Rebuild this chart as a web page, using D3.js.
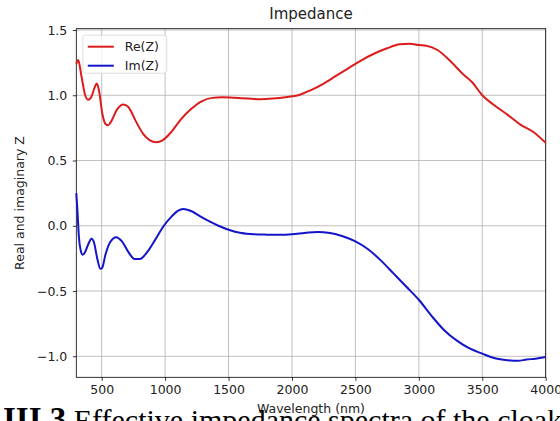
<!DOCTYPE html>
<html>
<head>
<meta charset="utf-8">
<script src="https://cdn.jsdelivr.net/npm/d3@7"></script>
<style>
  body { margin: 0; background: #fff; }
  svg { display: block; }
</style>
</head>
<body>
<div id="chart"></div>
<script>
/////////////////////////////////////////////////////////////////////
/////////////////////////global variables////////////////////////////
/////////////////////////////////////////////////////////////////////
var wdim = 560,
    hdim = 421,
    margin = {top: 28.7, right: 14.3, bottom: 43.7, left: 76.3},
    width = wdim - margin.left - margin.right,
    height = hdim - margin.top - margin.bottom;

var canvas;

// wavelength (nm) and values
var reWave = [300, 315, 340, 370, 395, 420, 445, 462, 480, 505, 530, 550, 575, 620, 670, 710, 770, 830, 880, 930, 980,
              1050, 1120, 1200, 1280, 1370, 1450, 1550, 1650, 1750, 1850, 1950, 2050, 2150, 2250, 2350, 2450, 2550,
              2650, 2750, 2850, 2930, 3000, 3060, 3150, 3250, 3350, 3420, 3500, 3600, 3700, 3800, 3900, 4000];
var reZ = [1.24, 1.27, 1.15, 1.00, 0.965, 0.99, 1.06, 1.09, 1.03, 0.86, 0.78, 0.77, 0.80, 0.89, 0.93, 0.91, 0.80, 0.70, 0.655, 0.64, 0.655,
           0.72, 0.81, 0.89, 0.95, 0.98, 0.985, 0.98, 0.975, 0.97, 0.975, 0.985, 1.00, 1.04, 1.09, 1.15, 1.21, 1.27,
           1.32, 1.36, 1.39, 1.395, 1.385, 1.38, 1.345, 1.26, 1.16, 1.10, 1.00, 0.92, 0.85, 0.775, 0.72, 0.635];

var imWave = [300, 310, 320, 335, 350, 370, 395, 420, 440, 465, 490, 505, 530, 570, 615, 660, 710, 760, 800, 860, 920, 990,
              1050, 1100, 1145, 1200, 1280, 1350, 1420, 1500, 1600, 1700, 1800, 1900, 2000, 2100, 2200, 2300, 2400,
              2500, 2600, 2700, 2800, 2900, 3000, 3100, 3200, 3300, 3400, 3500, 3600, 3700, 3780, 3850, 3920, 4000];
var imZ = [0.25, 0.10, -0.08, -0.19, -0.222, -0.20, -0.14, -0.10, -0.13, -0.25, -0.33, -0.32, -0.22, -0.12, -0.087, -0.12, -0.20, -0.255, -0.255, -0.20, -0.11, 0.0,
           0.07, 0.115, 0.128, 0.115, 0.07, 0.033, 0.0, -0.03, -0.055, -0.065, -0.068, -0.069, -0.065, -0.055, -0.047, -0.055, -0.08,
           -0.12, -0.18, -0.265, -0.365, -0.465, -0.567, -0.69, -0.80, -0.88, -0.94, -0.98, -1.015, -1.03, -1.035, -1.025, -1.018, -1.005];

var xTicks = [500, 1000, 1500, 2000, 2500, 3000, 3500, 4000];
var yTicks = [-1.0, -0.5, 0.0, 0.5, 1.0, 1.5];
var seriesNames = ["Re(Z)", "Im(Z)"];
var seriesColors = ["#dc1c1c", "#1414c8"];

var x = d3.scaleLinear().domain([300, 4000]).range([0, width]);
var y = d3.scaleLinear().domain([-1.161, 1.51]).range([height, 0]);

var font = "'DejaVu Sans', sans-serif";

/////////////////////////////////////////////////////////////////////
/////////////////////Function to build svg///////////////////////////
/////////////////////////////////////////////////////////////////////
function build_canvas(){
  var svg = d3.select("#chart")
    .append("svg")
    .attr("width", wdim)
    .attr("height", hdim);
  return svg;
}

function draw_axes(g){
  // grid
  g.append("g").selectAll("line").data(xTicks).enter().append("line")
    .attr("x1", d => x(d)).attr("x2", d => x(d))
    .attr("y1", 0).attr("y2", height)
    .attr("stroke", "#b0b0b0").attr("stroke-width", 0.8);
  g.append("g").selectAll("line").data(yTicks).enter().append("line")
    .attr("x1", 0).attr("x2", width)
    .attr("y1", d => y(d)).attr("y2", d => y(d))
    .attr("stroke", "#b0b0b0").attr("stroke-width", 0.8);

  var xAxis = g.append("g")
    .attr("transform", "translate(0," + height + ")")
    .call(d3.axisBottom(x).tickValues(xTicks).tickSize(3.5).tickPadding(4).tickFormat(d3.format("d")));
  var yAxis = g.append("g")
    .call(d3.axisLeft(y).tickValues(yTicks).tickSize(3.5).tickPadding(5.5)
      .tickFormat(d => d3.format(".1f")(d).replace("-", "\u2212")));

  [xAxis, yAxis].forEach(function(a){
    a.select(".domain").remove();
    a.selectAll("line").attr("stroke", "#000").attr("stroke-width", 0.8);
    a.selectAll("text").attr("font-family", font).attr("font-size", "12.5px").attr("fill", "#222");
  });

  // frame
  g.append("rect")
    .attr("width", width).attr("height", height)
    .attr("fill", "none").attr("stroke", "#000").attr("stroke-width", 0.8);
}

function draw_lines(g){
  var sets = [[reWave, reZ], [imWave, imZ]];
  var line = d3.line()
    .x(d => x(d[0]))
    .y(d => y(d[1]))
    .curve(d3.curveMonotoneX);

  sets.forEach(function(s, i){
    g.append("path")
      .datum(d3.zip(s[0], s[1]))
      .attr("d", line)
      .attr("fill", "none")
      .attr("stroke", seriesColors[i])
      .attr("stroke-width", 2)
      .attr("stroke-linejoin", "round");
  });
}

function draw_legend(g){
  var leg = g.append("g").attr("transform", "translate(6.5,6.5)");
  leg.append("rect")
    .attr("width", 84).attr("height", 38).attr("rx", 2.5)
    .attr("fill", "#fff").attr("fill-opacity", 0.8)
    .attr("stroke", "#d6d6d6").attr("stroke-width", 0.8);
  seriesNames.forEach(function(n, i){
    var yy = 11.5 + i * 19;
    leg.append("line")
      .attr("x1", 5).attr("x2", 31).attr("y1", yy).attr("y2", yy)
      .attr("stroke", seriesColors[i]).attr("stroke-width", 2);
    leg.append("text")
      .attr("x", 42).attr("y", yy).attr("dy", "0.35em")
      .attr("font-family", font).attr("font-size", "12.5px").attr("fill", "#222")
      .text(n);
  });
}

function draw_labels(svg){
  var cx = margin.left + width / 2;
  svg.append("text")
    .attr("x", cx).attr("y", 19)
    .attr("text-anchor", "middle")
    .attr("font-family", font).attr("font-size", "15px").attr("fill", "#222")
    .text("Impedance");
  svg.append("text")
    .attr("x", cx).attr("y", 413)
    .attr("text-anchor", "middle")
    .attr("font-family", font).attr("font-size", "12.5px").attr("fill", "#222")
    .text("Wavelength (nm)");
  svg.append("text")
    .attr("transform", "translate(24," + (margin.top + height / 2) + ") rotate(-90)")
    .attr("text-anchor", "middle")
    .attr("font-family", font).attr("font-size", "12.5px").attr("fill", "#222")
    .text("Real and imaginary Z");

  // caption of the page the figure was cut from
  var cap = svg.append("text")
    .attr("x", 3).attr("y", 430)
    .attr("font-family", "'Liberation Serif', 'Times New Roman', serif")
    .attr("font-size", "30px").attr("fill", "#000");
  cap.append("tspan").attr("font-weight", "bold").attr("font-size", "33px").text("III.3");
  cap.append("tspan").text(" Effective impedance spectra of the cloak");
}

/////////////////////////////////////////////////////////////////////
/////////////////////// MAIN ////////////////////////////////////////
/////////////////////////////////////////////////////////////////////
function main(){
  canvas = build_canvas();
  var g = canvas.append("g")
    .attr("transform", "translate(" + margin.left + "," + margin.top + ")");
  draw_axes(g);
  draw_lines(g);
  draw_legend(g);
  draw_labels(canvas);
}

main();
</script>
</body>
</html>
